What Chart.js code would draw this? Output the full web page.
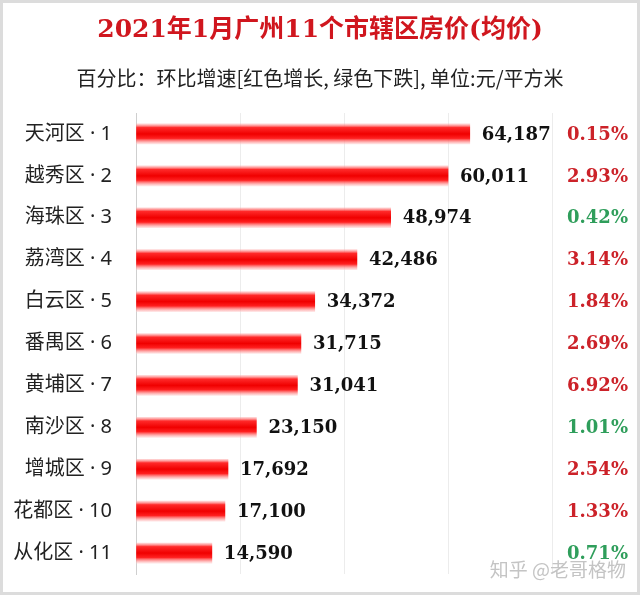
<!DOCTYPE html>
<html>
<head>
<meta charset="utf-8">
<script src="https://cdn.jsdelivr.net/npm/chart.js@4.4.1/dist/chart.umd.min.js"></script>
<style>
    html, body { margin: 0; padding: 0; background: #fff; }
    #wrap { width: 640px; height: 595px; }
</style>
</head>
<body>
<div id="wrap"><canvas id="priceChart" width="640" height="595"></canvas></div>
<script>
const districts = ['天河区', '越秀区', '海珠区', '荔湾区', '白云区', '番禺区', '黄埔区', '南沙区', '增城区', '花都区', '从化区'];
const prices = [64187, 60011, 48974, 42486, 34372, 31715, 31041, 23150, 17692, 17100, 14590];
// 环比增速, 负数 = 下跌 (绿色)
const changes = [0.15, 2.93, -0.42, 3.14, 1.84, 2.69, 6.92, -1.01, 2.54, 1.33, -0.71];

const tickLabels = districts.map((d, i) => `${d} · ${i + 1}`);
const titleText = '2021年1月广州11个市辖区房价(均价)';
const subtitleText = '百分比：环比增速[红色增长, 绿色下跌], 单位:元/平方米';
const serifFont = '"DejaVu Serif", "Noto Sans CJK SC", serif';
const sansFont = '"Noto Sans", "Noto Sans CJK SC", sans-serif';
const cjkFont = '"Noto Sans CJK SC", sans-serif';

const labelPlugin = {
    id: 'labelPlugin',
    beforeDraw(chart) {
        const c = chart.ctx;
        c.save();
        c.strokeStyle = '#dcdcdc';
        c.lineWidth = 3;
        c.strokeRect(1.5, 1.5, chart.width - 3, chart.height - 3);

        c.textAlign = 'center';
        c.textBaseline = 'middle';
        c.fillStyle = '#d0161e';
        c.font = 'bold 25px ' + serifFont;
        c.fillText(titleText, 320, 30);
        c.fillStyle = '#222';
        c.font = '20px ' + cjkFont;
        c.fillText(subtitleText, 320, 78);
        c.restore();
    },
    afterDatasetsDraw(chart) {
        const c = chart.ctx;
        const meta = chart.getDatasetMeta(0);
        c.save();
        c.textBaseline = 'middle';
        c.font = 'bold 18px ' + serifFont;
        meta.data.forEach((bar, i) => {
            c.fillStyle = '#111';
            c.textAlign = 'left';
            c.fillText(prices[i].toLocaleString('en-US'), bar.x + 12, bar.y + 1);

            c.fillStyle = changes[i] >= 0 ? '#cc2229' : '#2f9e5b';
            c.textAlign = 'right';
            c.fillText(Math.abs(changes[i]).toFixed(2) + '%', 628, bar.y + 1);
        });
        c.font = '19px ' + cjkFont;
        c.fillStyle = '#c4c4c4';
        c.textAlign = 'right';
        c.fillText('知乎 @老哥格物', 626, 570);
        c.restore();
    }
};

function barGradient(context) {
    const chart = context.chart;
    if (!chart.chartArea) return '#ff0000';
    const y = chart.scales.y.getPixelForValue(context.dataIndex);
    const g = chart.ctx.createLinearGradient(0, y - 10, 0, y + 10);
    g.addColorStop(0, 'rgba(255,170,170,0.5)');
    g.addColorStop(0.18, '#ff2a2a');
    g.addColorStop(0.5, '#f00000');
    g.addColorStop(0.72, '#ff2020');
    g.addColorStop(1, 'rgba(255,200,200,0.5)');
    return g;
}

const ctx = document.getElementById('priceChart').getContext('2d');
new Chart(ctx, {
    type: 'bar',
    data: {
        labels: tickLabels,
        datasets: [{
            data: prices,
            backgroundColor: barGradient,
            barThickness: 20,
            borderWidth: 0
        }]
    },
    options: {
        indexAxis: 'y',
        responsive: false,
        animation: false,
        layout: { padding: { left: 6, right: 88, top: 113, bottom: 21 } },
        plugins: {
            legend: { display: false },
            tooltip: { enabled: false }
        },
        scales: {
            x: {
                min: 0,
                max: 80000,
                ticks: { display: false, stepSize: 20000 },
                grid: { color: '#ececec', drawTicks: false },
                border: { display: false },
                afterFit(scale) {
                    scale.height = 0;
                    scale.paddingLeft = 0;
                    scale.paddingRight = 0;
                }
            },
            y: {
                grid: { display: false },
                border: { color: '#cfcfcf' },
                ticks: {
                    color: '#222',
                    padding: 16,
                    font: { family: sansFont, size: 20 }
                },
                afterFit(scale) {
                    scale.width = 130;
                    scale.paddingTop = 0;
                    scale.paddingBottom = 0;
                }
            }
        }
    },
    plugins: [labelPlugin]
});
</script>
</body>
</html>
